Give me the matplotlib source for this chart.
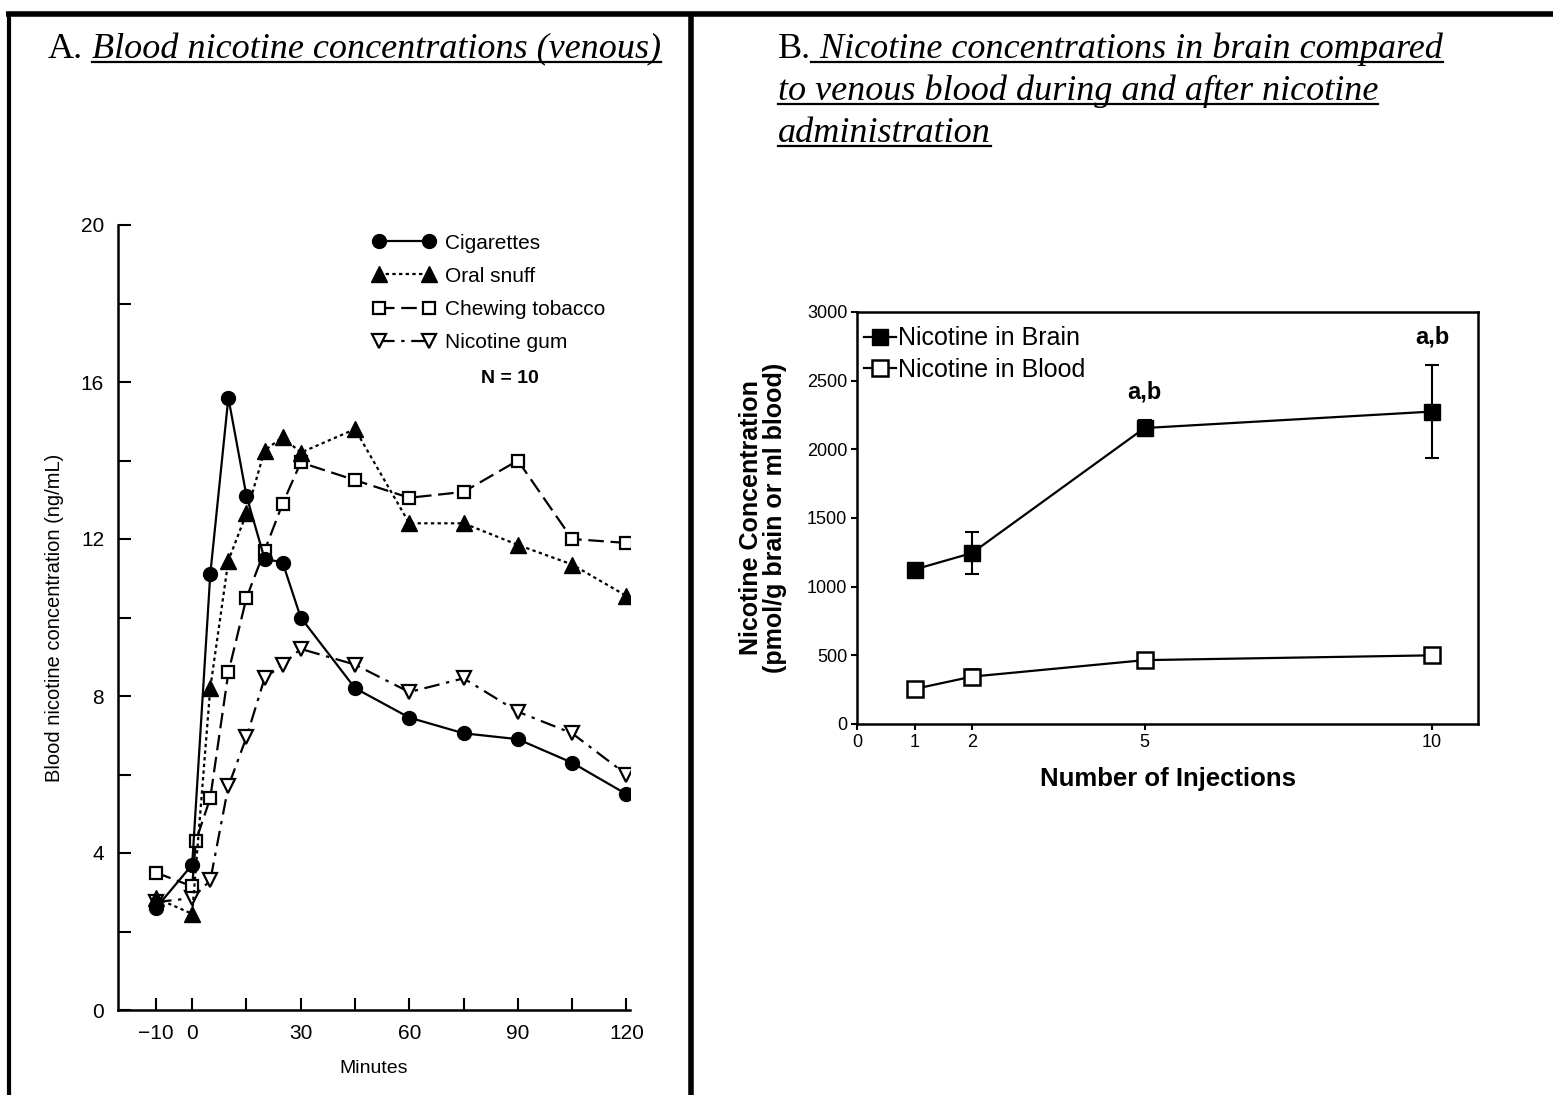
import matplotlib
matplotlib.use("Agg")
import matplotlib.pyplot as plt
from matplotlib.lines import Line2D
from matplotlib.ticker import FixedLocator

plt.rcParams['font.family'] = ['Liberation Sans', 'DejaVu Sans']

# --- panel A: venous blood nicotine (ng/mL) over time ---
minutes = [-10, 0, 5, 10, 15, 20, 25, 30, 45, 60, 75, 90, 105, 120]
cigarettes = [2.6, 3.7, 11.1, 15.6, 13.1, 11.5, 11.4, 10.0, 8.2, 7.45, 7.05, 6.9, 6.3, 5.5]
oral_snuff = [2.85, 2.45, 8.2, 11.45, 12.65, 14.25, 14.6, 14.2, 14.8, 12.4, 12.4, 11.85, 11.35, 10.55]
chew_minutes = [-10, 0, 1, 5, 10, 15, 20, 25, 30, 45, 60, 75, 90, 105, 120]
chewing_tobacco = [3.5, 3.15, 4.3, 5.4, 8.6, 10.5, 11.7, 12.9, 13.95, 13.5, 13.05, 13.2, 14.0, 12.0, 11.9]
nicotine_gum = [2.75, 2.85, 3.3, 5.7, 6.95, 8.45, 8.8, 9.2, 8.8, 8.1, 8.45, 7.6, 7.05, 6.0]

minute_ticks = [-10, 0, 15, 30, 45, 60, 75, 90, 105, 120]
minute_labels = ['\u221210', '0', '', '30', '', '60', '', '90', '', '120']

# --- panel B: brain vs blood nicotine after repeated injections ---
injections = [1, 2, 5, 10]
brain = [1125, 1245, 2155, 2275]
brain_err = [35, 155, 55, 340]
blood = [255, 345, 465, 500]
blood_err = [20, 55, 25, 45]
brain_marks = ['', '', 'a,b', 'a,b']

fig = plt.figure(figsize=(15.53, 10.95), dpi=100)
W, H = 1553.0, 1095.0

# ---------- panel A ----------
axA = fig.add_axes([118 / W, 1 - 1010 / H, 512 / W, 785 / H])
lw = 1.6
axA.plot(minutes, nicotine_gum, color='black', lw=lw, ls=(0, (7, 3, 1.5, 3)),
         marker='v', ms=10, mfc='white', mec='black', mew=1.6, label='Nicotine gum', zorder=2)
axA.plot(chew_minutes, chewing_tobacco, color='black', lw=lw, ls=(0, (7, 3)),
         marker='s', ms=9, mfc='white', mec='black', mew=1.6, label='Chewing tobacco', zorder=3)
axA.plot(minutes, oral_snuff, color='black', lw=lw, ls=(0, (1.5, 1.5)),
         marker='^', ms=11, mfc='black', mec='black', label='Oral snuff', zorder=4)
axA.plot(minutes, cigarettes, color='black', lw=lw, ls='-',
         marker='o', ms=10, mfc='black', mec='black', label='Cigarettes', zorder=5)

axA.set_xlim(-20.5, 121)
axA.set_ylim(0, 20)
axA.spines['top'].set_visible(False)
axA.spines['right'].set_visible(False)
for s in ('left', 'bottom'):
    axA.spines[s].set_linewidth(1.8)
axA.set_xticks(minute_ticks)
axA.set_xticklabels(minute_labels)
axA.set_yticks([0, 4, 8, 12, 16, 20])
axA.yaxis.set_minor_locator(FixedLocator([2, 6, 10, 14, 18]))
axA.tick_params(axis='both', which='both', direction='in', width=1.5, labelsize=15, pad=10)
axA.tick_params(axis='both', which='major', length=9)
axA.tick_params(axis='both', which='minor', length=9)
axA.set_xlabel('Minutes', fontsize=14, labelpad=12)
axA.set_ylabel('Blood nicotine concentration (ng/mL)', fontsize=14.5, labelpad=12)

handles, labels = axA.get_legend_handles_labels()
axA.legend(handles[::-1], labels[::-1], loc='upper left', bbox_to_anchor=(0.46, 1.013),
           frameon=False, numpoints=2, handlelength=3.0, fontsize=15,
           labelspacing=0.68, handletextpad=0.5)
axA.text(0.766, 0.805, 'N = 10', transform=axA.transAxes, fontsize=14,
         fontweight='bold', ha='center', va='center')

# ---------- panel B ----------
axB = fig.add_axes([857 / W, 1 - 724 / H, 621 / W, 412 / H])
axB.errorbar(injections, brain, yerr=brain_err, color='black', lw=1.6,
             marker='s', ms=12, mfc='black', mec='black',
             capsize=5, capthick=1.5, elinewidth=1.5)
axB.errorbar(injections, blood, yerr=blood_err, color='black', lw=1.6,
             marker='s', ms=12, mfc='white', mec='black', mew=1.8,
             capsize=5, capthick=1.5, elinewidth=1.5)
for x, y, e, m in zip(injections, brain, brain_err, brain_marks):
    if m:
        axB.annotate(m, (x, y + e), xytext=(0, 12), textcoords='offset points',
                     ha='center', va='bottom', fontsize=17, fontweight='bold')

axB.set_xlim(0, 10.8)
axB.set_ylim(0, 3000)
axB.set_xticks([0, 1, 2, 5, 10])
axB.set_yticks(range(0, 3001, 500))
for s in axB.spines.values():
    s.set_linewidth(1.8)
axB.tick_params(axis='both', direction='out', length=4, width=1.5, labelsize=13, pad=3)
axB.set_xlabel('Number of Injections', fontsize=18.5, fontweight='bold', labelpad=12)
axB.set_ylabel('Nicotine Concentration\n(pmol/g brain or ml blood)', fontsize=18,
               fontweight='bold', labelpad=14, linespacing=1.0)

legend_handles = [
    Line2D([], [], color='black', lw=1.6, marker='s', ms=11, mfc='black', mec='black'),
    Line2D([], [], color='black', lw=1.6, marker='s', ms=11, mfc='white', mec='black', mew=1.8),
]
axB.legend(legend_handles, ['Nicotine in Brain', 'Nicotine in Blood'], loc='upper left',
           bbox_to_anchor=(-0.025, 1.02), frameon=False, numpoints=1,
           handlelength=1.3, handletextpad=0.05, fontsize=18, labelspacing=0.3)

# ---------- frame lines ----------
frame_kw = dict(transform=fig.transFigure, color='black', solid_capstyle='butt')
fig.add_artist(Line2D([6 / W, 1.0], [1 - 14 / H, 1 - 14 / H], lw=4, **frame_kw))
fig.add_artist(Line2D([9 / W, 9 / W], [0, 1 - 12 / H], lw=3, **frame_kw))
fig.add_artist(Line2D([691 / W, 691 / W], [0, 1 - 12 / H], lw=4, **frame_kw))

# ---------- underlined serif headings ----------
renderer = fig.canvas.get_renderer()
serif = ['Liberation Serif', 'DejaVu Serif']


def heading(x_px, base_px, prefix, lines, size, gap_px, step_px):
    head = fig.text(x_px / W, 1 - base_px / H, prefix, fontsize=size, family=serif,
                    va='baseline', ha='left')
    bb = head.get_window_extent(renderer)
    for i, line in enumerate(lines):
        if i == 0:
            start = bb.x1 + gap_px
        else:
            start = x_px * fig.dpi / 100
        yb = 1 - (base_px + i * step_px) / H
        t = fig.text(start / fig.bbox.width, yb, line, fontsize=size, family=serif,
                     style='italic', va='baseline', ha='left')
        tb = t.get_window_extent(renderer)
        uy = yb - 4 / H
        fig.add_artist(Line2D([tb.x0 / fig.bbox.width, tb.x1 / fig.bbox.width], [uy, uy],
                              transform=fig.transFigure, color='black', lw=1.6))


heading(48, 58, 'A.', ['Blood nicotine concentrations (venous)'], 26, 9, 42)
heading(778, 58, 'B.', [' Nicotine concentrations in brain compared',
                        'to venous blood during and after nicotine',
                        'administration'], 26, 0, 42)

fig.savefig('out.png', dpi=100)
